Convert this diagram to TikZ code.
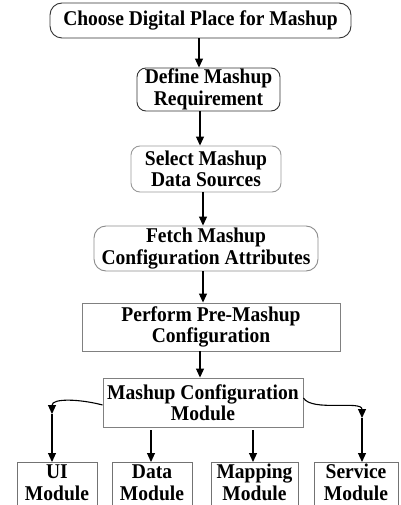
\documentclass[tikz,border=0pt]{standalone}
\usepackage{fontspec}
\setmainfont{Liberation Serif}
\newfontfamily\stagefont{Liberation Serif}[FakeStretch=0.93]
\usetikzlibrary{arrows.meta,calc}
\tikzset{
  stage/.style={draw=#1, line width=0.9pt, align=center, inner sep=0pt,
    font=\stagefont\fontsize{21}{21.5}\selectfont\bfseries},
  stage/.default={black!80},
  module/.style={draw=black!55, line width=0.8pt, align=center, anchor=north,
    inner xsep=0pt, inner ysep=2pt, text depth=11pt,
    font=\stagefont\fontsize{21}{22}\selectfont\bfseries},
  flow/.style={line width=1.1pt, -{Triangle[length=9pt,width=8pt]}},
}
\begin{document}
\begin{tikzpicture}[x=1pt,y=-1pt]
\useasboundingbox[fill=white] (0,0) rectangle (400,505);

% main sequence of stages
\node[stage, rounded corners=12pt, minimum width=301pt, minimum height=35pt]
  (place) at (200.5,20.5) {Choose Digital Place for Mashup};
\node[stage, rounded corners=9pt, minimum width=143pt, minimum height=43pt]
  (req) at (208.5,89.5) {Define Mashup\\Requirement};
\node[stage=black!40, rounded corners=9pt, minimum width=150pt, minimum height=46pt]
  (src) at (206,169) {Select Mashup\\Data Sources};
\node[stage=black!45, rounded corners=12pt, minimum width=224pt, minimum height=45pt]
  (attr) at (206,248.5) {Fetch Mashup\\Configuration Attributes};
\node[stage=black!50, minimum width=258pt, minimum height=48pt]
  (pre) at (211,327) {Perform Pre-Mashup\\Configuration};
\node[stage=black!50, minimum width=200pt, minimum height=49pt]
  (conf) at (203,402.5) {Mashup Configuration\\Module};

% modules along the bottom
\node[module, minimum width=80pt] (ui) at (57,462) {UI\\Module};
\node[module, minimum width=80pt] (data) at (152,462) {Data\\Module};
\node[module, minimum width=87pt] (map) at (254.5,462) {Mapping\\Module};
\node[module, minimum width=84pt] (svc) at (356,462) {Service\\Module};

% sequence arrows
\draw[flow] (place.south -| 199,0) -- (req.north -| 199,0);
\draw[flow] (req.south -| 200,0) -- (src.north -| 200,0);
\draw[flow] (src.south -| 203,0) -- (attr.north -| 203,0);
\draw[flow] (attr.south -| 203,0) -- (pre.north -| 203,0);
\draw[flow] (pre.south -| 200,0) -- (conf.north -| 200,0);

% branches to the modules
\coordinate (lbend) at (52,414);
\coordinate (rbend) at (362,418);
\draw[flow] (conf.west |- 0,405) .. controls (80,399) and (52,398) .. (lbend);
\draw[flow] (lbend) -- (ui.north -| lbend);
\draw[flow] (conf.east |- 0,398) .. controls (312,412) and (362,400) .. (rbend);
\draw[flow] (rbend) -- (svc.north -| rbend);
\draw[flow] ($(conf.south -| 151,0)+(0,3)$) -- (data.north -| 151,0);
\draw[flow] ($(conf.south -| 253,0)+(0,3)$) -- (map.north -| 253,0);
\end{tikzpicture}
\end{document}
